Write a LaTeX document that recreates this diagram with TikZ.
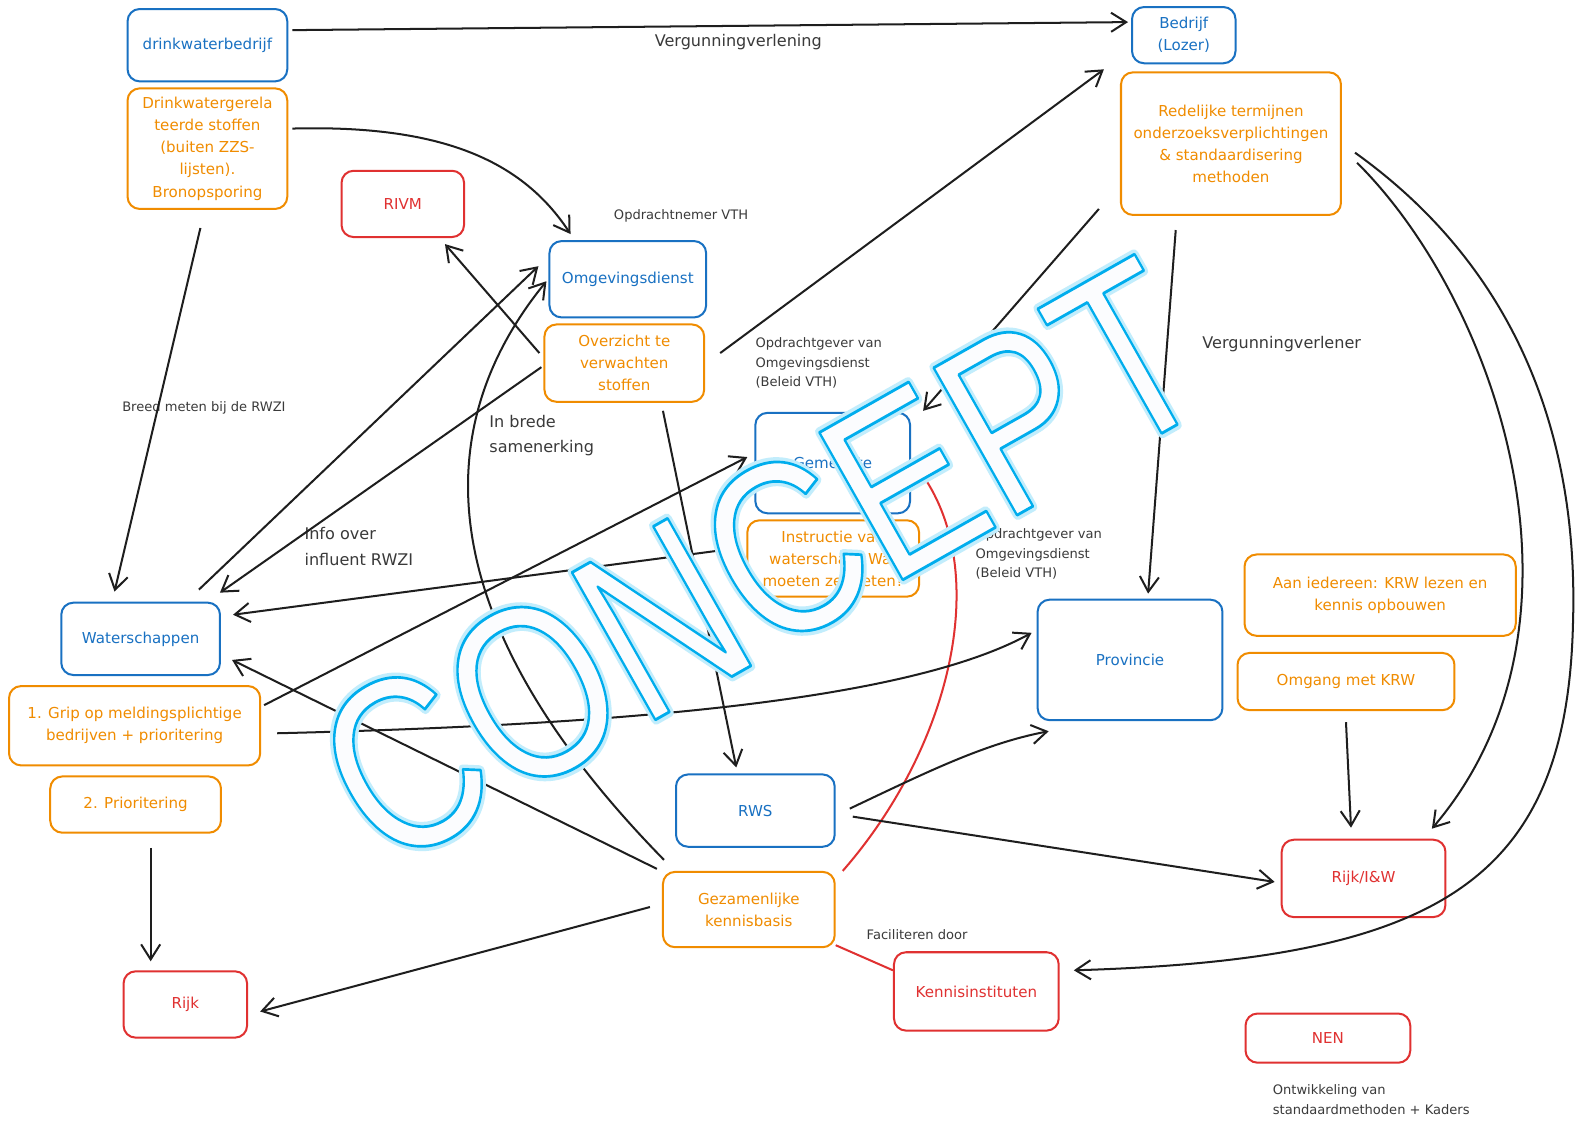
\documentclass[tikz,border=0pt]{standalone}
\usepackage{fontspec}
\setmainfont{DejaVu Sans}
\newfontfamily\wmfont{Liberation Sans}
\usetikzlibrary{arrows.meta,calc}
\definecolor{cblue}{HTML}{1971C2}
\definecolor{corange}{HTML}{F08C00}
\definecolor{cred}{HTML}{E03131}
\definecolor{cink}{HTML}{1E1E1E}
\definecolor{clabel}{HTML}{3A3A3A}
\newcommand\wmglow{\special{pdf:literal 1 Tr 10 w 1 j 1 J 0.76 0.93 0.99 RG}}
\newcommand\wmline{\special{pdf:literal 2 Tr 2.8 w 1 j 1 J 0 0.68 0.93 RG 0.985 0.99 0.995 rg}}
\newcommand\wmreset{\special{pdf:literal 0 Tr}}
\tikzset{
  box/.style={draw, rounded corners=12pt, line width=2pt, align=center, inner sep=3pt, font=\fontsize{15}{22}\selectfont},
  bbox/.style={box, draw=cblue, text=cblue},
  obox/.style={box, draw=corange, text=corange},
  rbox/.style={box, draw=cred, text=cred},
  small/.style={text=clabel, font=\fontsize{13}{19.5}\selectfont, inner sep=0pt, align=left},
  big/.style={text=clabel, font=\fontsize{16}{25.5}\selectfont, inner sep=0pt, align=left},
  arr/.style={draw=cink, line width=2pt, -{Straight Barb[length=15pt,width=19pt]}},
  redcon/.style={draw=cred, line width=2pt},
}
\begin{document}
\begin{tikzpicture}[x=1pt, y=-1pt]
\fill[white] (0,0) rectangle (1568,1119);
\useasboundingbox (0,0) rectangle (1568,1119);

% boxes
\node[bbox, minimum width=159pt, minimum height=72pt] (dwb) at (206.5,45) {drinkwaterbedrijf};
\node[obox, minimum width=159pt, minimum height=120pt] (dwg) at (206.5,148) {Drinkwatergerela\\teerde stoffen\\(buiten ZZS-\\lijsten).\\Bronopsporing};
\node[rbox, minimum width=122pt, minimum height=66pt] (rivm) at (401,203) {RIVM};
\node[bbox, minimum width=156pt, minimum height=76pt] (omg) at (625,278) {Omgevingsdienst};
\node[obox, minimum width=159pt, minimum height=77pt] (ovz) at (621.5,361.5) {Overzicht te\\verwachten\\stoffen};
\node[bbox, minimum width=103pt, minimum height=56pt] (bedr) at (1178.5,35) {Bedrijf\\(Lozer)};
\node[obox, minimum width=219pt, minimum height=142pt] (red) at (1225.5,143) {Redelijke termijnen\\onderzoeksverplichtingen\\\& standaardisering\\methoden};
\node[bbox, minimum width=154pt, minimum height=100pt] (gem) at (829,461) {Gemeente};
\node[obox, minimum width=171pt, minimum height=76pt] (ins) at (829.5,556) {Instructie van\\waterschap: Wat\\moeten ze meten?};
\node[bbox, minimum width=158pt, minimum height=72pt] (ws) at (140,636) {Waterschappen};
\node[obox, minimum width=250pt, minimum height=79pt] (grip) at (134,722.5) {1. Grip op meldingsplichtige\\bedrijven + prioritering};
\node[obox, minimum width=170pt, minimum height=56pt] (prio) at (135,801) {2. Prioritering};
\node[rbox, minimum width=123pt, minimum height=66pt] (rijk) at (184.5,1000) {Rijk};
\node[bbox, minimum width=158pt, minimum height=72pt] (rws) at (752,807) {RWS};
\node[obox, minimum width=171pt, minimum height=75pt] (gez) at (745.5,905.5) {Gezamenlijke\\kennisbasis};
\node[rbox, minimum width=164pt, minimum height=78pt] (ki) at (972,987) {Kennisinstituten};
\node[bbox, minimum width=184pt, minimum height=120pt] (prov) at (1125,657) {Provincie};
\node[obox, minimum width=270pt, minimum height=81pt] (aan) at (1374,592.5) {Aan iedereen: KRW lezen en\\kennis opbouwen};
\node[obox, minimum width=216pt, minimum height=57pt] (okrw) at (1340,678.5) {Omgang met KRW};
\node[rbox, minimum width=163pt, minimum height=77pt] (riw) at (1357.5,874.5) {Rijk/I\&W};
\node[rbox, minimum width=164pt, minimum height=49pt] (nen) at (1322,1033.5) {NEN};

% labels
\node[big] (l1) at (735,42) {Vergunningverlening};
\node[small] (l2) at (678,215) {Opdrachtnemer VTH};
\node[small, anchor=north west] (l3) at (752,336) {Opdrachtgever van\\Omgevingsdienst\\(Beleid VTH)};
\node[small] (l4) at (203,406) {Breed meten bij de RWZI};
\node[big, anchor=north west] (l5) at (487,413) {In brede\\samenerking};
\node[big, anchor=north west] (l6) at (303,525) {Info over\\influent RWZI};
\node[big] (l7) at (1276,343) {Vergunningverlener};
\node[small, anchor=north west] (l8) at (971,526) {Opdrachtgever van\\Omgevingsdienst\\(Beleid VTH)};
\node[small] (l9) at (913,930) {Faciliteren door};
\node[small, anchor=north west] (l10) at (1267,1080) {Ontwikkeling van\\standaardmethoden + Kaders};

% connectors
\draw[arr] ($(dwb.east)+(4,-15)$) -- ($(bedr.west)+(-3,-13)$);
\draw[arr] ($(dwg.east)+(4,-20)$) .. controls (440,124) and (520,160) .. ($(omg.north)+(-57,-6)$);
\draw[arr] ($(dwg.south)+(-7,18)$) -- ($(ws.north)+(-26,-10)$);
\draw[arr] ($(ovz.west)+(-4,-10)$) -- ($(rivm.south east)+(-20,6)$);
\draw[arr] ($(ws.north)+(58,-12)$) -- ($(omg.west)+(-10,-13)$);
\draw[arr] ($(ovz.west)+(-2,4)$) -- ($(ws.north east)+(-1,-9)$);
\draw[arr] ($(ovz.east)+(15,-10)$) -- ($(bedr.south west)+(-27,5)$);
\draw[arr] ($(red.south west)+(-21,-7)$) -- ($(gem.north east)+(12,-1)$);
\draw[arr] ($(red.south)+(-55,14)$) -- ($(prov.north)+(18,-5)$);
\draw[arr] ($(red.east)+(15,19)$) .. controls (1490,300) and (1600,620) .. ($(riw.north)+(68,-10)$);
\draw[arr] ($(red.east)+(13,9)$) .. controls (1500,260) and (1572,420) .. (1566,620) .. controls (1560,880) and (1430,955) .. ($(ki.east)+(14,-21)$);
\draw[arr] ($(okrw.south)+(0,11)$) -- ($(riw.north)+(-12.5,-11)$);
\draw[arr] ($(ovz.south)+(38.5,8)$) -- ($(rws.north)+(-19,-6)$);
\draw[arr] ($(grip.north east)+(3,20)$) -- ($(gem.west)+(-7,-6)$);
\draw[arr] ($(ins.west)+(-11,-10)$) -- ($(ws.east)+(12,-24)$);
\draw[arr] ($(gez.north west)+(-5,-2)$) -- ($(ws.east)+(11,21)$);
\draw[arr] ($(gez.north west)+(2,-11)$) .. controls (420,610) and (430,420) .. ($(omg.west)+(-2,2)$);
\draw[arr] ($(gez.west)+(-12,-2.5)$) -- ($(rijk.east)+(12,7)$);
\draw[redcon] ($(gez.north east)+(7,0)$) .. controls (950,740) and (990,560) .. ($(gem.east)+(4,2)$);
\draw[redcon] ($(gez.south east)+(0,-3)$) -- ($(ki.west)+(0,-21)$);
\draw[arr] ($(rws.east)+(14,-2)$) .. controls (920,770) and (980,740) .. ($(prov.south west)+(12,10)$);
\draw[arr] ($(rws.east)+(17,6)$) -- ($(riw.west)+(-6,3.5)$);
\draw[arr] ($(grip.east)+(16,7.5)$) .. controls (600,722) and (900,700) .. ($(prov.west)+(-5,-27)$);
\draw[arr] ($(prio.south)+(15,14)$) -- ($(rijk.north)+(-34.5,-9)$);

% watermark
\node[rotate=29.5, inner sep=0pt] (wmg) at (758,560) {\wmfont\fontsize{245}{245}\selectfont\scalebox{0.8}[1]{\wmglow CONCEPT\wmreset}};
\node[rotate=29.5, inner sep=0pt] (wm) at (758,560) {\wmfont\fontsize{245}{245}\selectfont\scalebox{0.8}[1]{\wmline CONCEPT\wmreset}};
\end{tikzpicture}
\end{document}
